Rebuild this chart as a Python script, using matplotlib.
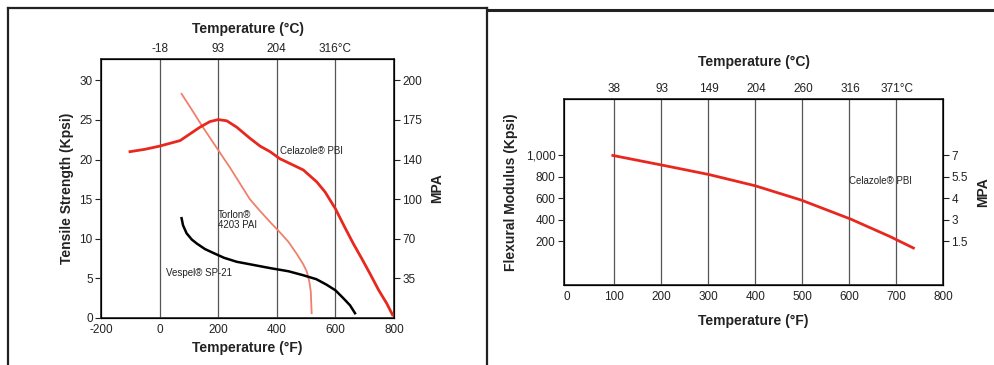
import matplotlib
matplotlib.use("Agg")
import matplotlib.pyplot as plt
from matplotlib.lines import Line2D

plt.rcParams["font.family"] = ["Liberation Sans", "DejaVu Sans"]
plt.rcParams["axes.unicode_minus"] = False

# left chart: tensile strength (Kpsi) vs temperature (F)
pbi_f = [-101, -50, 0, 70, 138, 172, 200, 229, 263, 308, 343, 377, 411, 445, 490,
         536, 565, 600, 630, 661, 690, 718, 748, 775, 795]
pbi_k = [21.0, 21.3, 21.7, 22.4, 24.1, 24.8, 25.05, 24.9, 24.1, 22.7, 21.7, 21.0, 20.1, 19.5, 18.7,
         17.2, 15.9, 13.8, 11.6, 9.4, 7.5, 5.6, 3.5, 1.85, 0.4]

torlon_f = [75, 110, 144, 200, 240, 274, 308, 343, 380, 411, 440, 468, 490, 502, 511, 516, 519]
torlon_k = [28.3, 26.3, 24.3, 21.2, 19.0, 17.0, 15.0, 13.5, 12.0, 10.8, 9.6, 8.1, 6.8, 5.9, 4.6, 3.3, 0.6]

vespel_f = [75, 80, 92, 110, 127, 155, 184, 220, 263, 320, 377, 440, 490, 535, 570, 600, 627, 650, 667]
vespel_k = [12.6, 11.7, 10.7, 9.9, 9.4, 8.7, 8.2, 7.6, 7.1, 6.7, 6.3, 5.9, 5.4, 4.9, 4.2, 3.5, 2.5, 1.6, 0.6]

left_xticks = [-200, 0, 200, 400, 600, 800]
left_grid = [0, 200, 400, 600]
left_top_labels = ["-18", "93", "204", "316°C"]
left_yticks = [0, 5, 10, 15, 20, 25, 30]
left_mpa_pos = [5, 10, 15, 20, 25, 30]
left_mpa_labels = ["35", "70", "100", "140", "175", "200"]

# right chart: flexural modulus (Kpsi) vs temperature (F)
flex_f = [97, 210, 301, 400, 498, 604, 688, 737]
flex_k = [1000, 903, 823, 718, 585, 407, 244, 139]

right_xticks = [0, 100, 200, 300, 400, 500, 600, 700, 800]
right_grid = [100, 200, 300, 400, 500, 600, 700]
right_top_labels = ["38", "93", "149", "204", "260", "316", "371°C"]
right_yticks = [200, 400, 600, 800, 1000]
right_ylabels = ["200", "400", "600", "800", "1,000"]
right_mpa_labels = ["1.5", "3", "4", "5.5", "7"]

W, H = 994, 365
fig = plt.figure(figsize=(W / 100, H / 100), dpi=100)
fig.patch.set_facecolor("white")
txt = "#222222"


def box(l, t, r, b):
    return [l / W, 1 - b / H, (r - l) / W, (b - t) / H]


def style(ax):
    for s in ax.spines.values():
        s.set_linewidth(1.3)
        s.set_color("#333333")
    ax.tick_params(labelsize=8.5, colors=txt, width=0.8)


# ---- left chart ----
a = fig.add_axes(box(101, 59, 394, 318))
style(a)
for g in left_grid:
    a.axvline(g, color="#555555", lw=0.9, zorder=1)
a.plot(torlon_f, torlon_k, c="#f0806c", lw=1.3, zorder=3, solid_joinstyle="round")
a.plot(vespel_f, vespel_k, c="black", lw=1.8, zorder=3, solid_joinstyle="round")
a.plot(pbi_f, pbi_k, c="#e8281e", lw=2.0, zorder=4, solid_joinstyle="round")
a.set_xlim(-200, 800)
a.set_ylim(0, 32.7)
a.set_xticks(left_xticks)
a.set_yticks(left_yticks)
a.tick_params(axis="x", length=0, pad=4)
a.tick_params(axis="y", length=4, pad=2)
a.set_xlabel("Temperature (°F)", fontsize=10, fontweight="bold", color=txt, labelpad=4)
a.set_ylabel("Tensile Strength (Kpsi)", fontsize=10, fontweight="bold", color=txt, labelpad=4)
a.text(411, 21.1, "Celazole® PBI", fontsize=7, color=txt, va="center")
a.text(200, 12.4, "Torlon®\n4203 PAI", fontsize=7, color=txt, va="center", linespacing=1.0)
a.text(22, 5.7, "Vespel® SP-21", fontsize=7, color=txt, va="center")

at = a.twiny()
at.set_xlim(-200, 800)
at.set_xticks(left_grid)
at.set_xticklabels(left_top_labels)
at.tick_params(axis="x", length=0, labelsize=8.5, colors=txt, pad=3)
at.set_xlabel("Temperature (°C)", fontsize=10, fontweight="bold", color=txt, labelpad=7)

ar = a.twinx()
ar.set_ylim(0, 32.7)
ar.set_yticks(left_mpa_pos)
ar.set_yticklabels(left_mpa_labels)
ar.tick_params(axis="y", length=4, labelsize=8.5, colors=txt, pad=2)
ar.set_ylabel("MPA", fontsize=10, fontweight="bold", color=txt, labelpad=6)

# ---- right chart ----
b = fig.add_axes(box(564, 99, 943, 285))
style(b)
for g in right_grid:
    b.axvline(g, color="#555555", lw=0.9, zorder=1)
b.plot(flex_f, flex_k, c="#e8281e", lw=2.0, zorder=4, solid_joinstyle="round")
b.set_xlim(-7, 797)
b.set_ylim(-205, 1525)
b.set_xticks(right_xticks)
b.set_yticks(right_yticks)
b.set_yticklabels(right_ylabels)
b.tick_params(axis="x", length=0, pad=4)
b.tick_params(axis="y", length=4, pad=2)
b.set_xlabel("Temperature (°F)", fontsize=10, fontweight="bold", color=txt, labelpad=8)
b.set_ylabel("Flexural Modulus (Kpsi)", fontsize=10, fontweight="bold", color=txt, labelpad=6)
b.text(600, 760, "Celazole® PBI", fontsize=7, color=txt, va="center")

bt = b.twiny()
bt.set_xlim(-7, 797)
bt.set_xticks(right_grid)
bt.set_xticklabels(right_top_labels)
bt.tick_params(axis="x", length=0, labelsize=8.5, colors=txt, pad=3)
bt.set_xlabel("Temperature (°C)", fontsize=10, fontweight="bold", color=txt, labelpad=12)

br = b.twinx()
br.set_ylim(-205, 1525)
br.set_yticks(right_yticks)
br.set_yticklabels(right_mpa_labels)
br.tick_params(axis="y", length=4, labelsize=8.5, colors=txt, pad=2)
br.set_ylabel("MPA", fontsize=10, fontweight="bold", color=txt, labelpad=6)

# panel frames
fig.add_artist(Line2D([8 / W, 8 / W], [0, 1 - 8 / H], color="#222222", lw=1.6))
fig.add_artist(Line2D([8 / W, 487 / W], [1 - 8 / H, 1 - 8 / H], color="#222222", lw=1.6))
fig.add_artist(Line2D([487 / W, 487 / W], [0, 1 - 8 / H], color="#222222", lw=1.6))
fig.add_artist(Line2D([489 / W, 1], [1 - 10 / H, 1 - 10 / H], color="#222222", lw=2.2))

fig.savefig("out.png", dpi=100)
